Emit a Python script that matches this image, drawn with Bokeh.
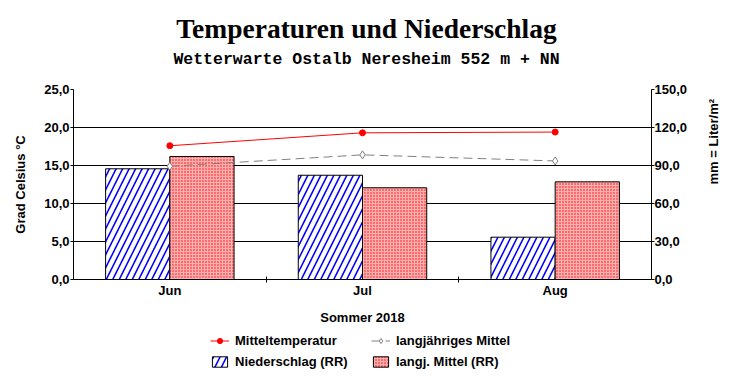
import math
from bokeh.plotting import figure
from bokeh.layouts import column
from bokeh.models import Range1d, LinearAxis, FixedTicker, Legend, LegendItem, Label
from bokeh.embed import file_html
from bokeh.resources import INLINE

# ---- data ----
months = ["Jun", "Jul", "Aug"]
temp = [17.6, 19.3, 19.4]          # Mitteltemperatur (°C)
temp_mean = [14.9, 16.4, 15.6]     # langjähriges Mittel (°C)
rr = [87.4, 82.3, 33.4]            # Niederschlag (mm)
rr_mean = [97.1, 72.4, 77.1]       # langj. Mittel (RR) (mm)
temp_ticks = [0, 5, 10, 15, 20, 25]
rr_ticks = [0, 30, 60, 90, 120, 150]

FONT = "Liberation Sans"
FW, FL = 578, 73          # frame width and left border shared by all parts

x = [i + 0.5 for i in range(len(months))]
bw = 1 / 3
x_rr = [v - bw / 2 for v in x]
x_rrm = [v + bw / 2 for v in x]
bounds = [i for i in range(1, len(months))]

# styles
S_RR = dict(fill_color="white", hatch_pattern="/", hatch_color="blue",
            hatch_weight=1.6, hatch_scale=13, line_color="black", line_width=1)
S_RRM = dict(fill_color="#ffb0b0", hatch_pattern=".", hatch_color="red",
             hatch_weight=1.5, hatch_scale=3, line_color="black", line_width=1)
S_TL = dict(line_color="red", line_width=1)
S_TM = dict(marker="circle", size=6, fill_color="red", line_color="red")
S_ML = dict(line_color="#808080", line_width=1, line_dash="9 5")
S_MM = dict(marker="diamond", size=8, fill_color="white", line_color="#808080")


def blank(fig):
    fig.axis.visible = False
    fig.grid.visible = False
    fig.outline_line_color = None
    fig.background_fill_color = "white"
    fig.border_fill_color = "white"


# ---- header with titles ----
head = figure(frame_width=FW, frame_height=80, output_backend="svg", toolbar_location=None,
              x_range=Range1d(0, FW), y_range=Range1d(80, 0),
              min_border_left=FL, min_border_right=0, min_border_top=0, min_border_bottom=0)
blank(head)
head.add_layout(Label(x=366 - FL, y=28, text="Temperaturen und Niederschlag",
                      text_align="center", text_baseline="middle",
                      text_font="Liberation Serif", text_font_size="27.5px",
                      text_font_style="bold", text_color="black"))
head.add_layout(Label(x=366 - FL, y=59, text="Wetterwarte Ostalb Neresheim 552 m + NN",
                      text_align="center", text_baseline="middle",
                      text_font="Liberation Mono", text_font_size="16.5px",
                      text_font_style="bold", text_color="black"))

# ---- main chart ----
p = figure(frame_width=FW, frame_height=190, output_backend="svg", toolbar_location=None,
           x_range=Range1d(0, len(months)), y_range=Range1d(temp_ticks[0], temp_ticks[-1]),
           min_border_left=FL, min_border_right=10, min_border_top=9, min_border_bottom=54)
p.extra_y_ranges = {"rr": Range1d(rr_ticks[0], rr_ticks[-1])}
p.outline_line_color = None
p.background_fill_color = "white"
p.border_fill_color = "white"

p.xgrid.visible = False
p.ygrid.ticker = FixedTicker(ticks=temp_ticks)
p.ygrid.grid_line_color = "black"
p.ygrid.grid_line_width = 1

p.vbar(x=x_rr, top=rr, bottom=0, width=bw, y_range_name="rr", **S_RR)
p.vbar(x=x_rrm, top=rr_mean, bottom=0, width=bw, y_range_name="rr", **S_RRM)
p.line(x, temp, **S_TL)
p.scatter(x, temp, **S_TM)
p.line(x, temp_mean, **S_ML)
p.scatter(x, temp_mean, **S_MM)

xa = p.xaxis[0]
xa.ticker = FixedTicker(ticks=x, minor_ticks=bounds)
xa.major_label_overrides = {v: m for v, m in zip(x, months)}
xa.major_tick_in = 0
xa.major_tick_out = 0
xa.minor_tick_in = 3
xa.minor_tick_out = 3
xa.minor_tick_line_color = "black"
xa.axis_label = "Sommer 2018"
xa.major_label_standoff = 0
xa.axis_label_standoff = 9

ya = p.yaxis[0]
ya.ticker = FixedTicker(ticks=temp_ticks)
ya.major_label_overrides = {t: f"{t:.1f}".replace(".", ",") for t in temp_ticks}
ya.axis_label = "Grad Celsius °C"
ya.axis_label_standoff = 13
ya.major_label_standoff = 1

ya2 = LinearAxis(y_range_name="rr", ticker=FixedTicker(ticks=rr_ticks),
                 major_label_overrides={t: f"{t:.1f}".replace(".", ",") for t in rr_ticks},
                 axis_label="mm = Liter/m²", axis_label_standoff=23,
                 axis_label_orientation=math.pi / 2)
ya2.major_label_standoff = 0
p.add_layout(ya2, "right")

for ax in (xa, ya, ya2):
    ax.major_label_text_font = FONT
    ax.major_label_text_font_size = "13px"
    ax.major_label_text_font_style = "bold"
    ax.major_label_text_color = "black"
    ax.axis_label_text_font = FONT
    ax.axis_label_text_font_size = "13px"
    ax.axis_label_text_font_style = "bold"
    ax.axis_label_text_color = "black"
    ax.axis_line_color = "black"
for ax in (ya, ya2):
    ax.major_tick_in = 0
    ax.major_tick_out = 3
    ax.minor_tick_line_color = None
    ax.major_tick_line_color = "black"

# ---- footer with legend (series kept far outside its visible range, only the key shows) ----
foot = figure(frame_width=FW, frame_height=51, output_backend="svg", toolbar_location=None,
              x_range=Range1d(1000, 1003), y_range=Range1d(5000, 5051),
              min_border_left=FL, min_border_right=0, min_border_top=0, min_border_bottom=0)
blank(foot)
f_rr = foot.vbar(x=x_rr, top=rr, bottom=0, width=bw, **S_RR)
f_rrm = foot.vbar(x=x_rrm, top=rr_mean, bottom=0, width=bw, **S_RRM)
f_tl = foot.line(x, temp, **S_TL)
f_tm = foot.scatter(x, temp, **S_TM)
f_ml = foot.line(x, temp_mean, **S_ML)
f_mm = foot.scatter(x, temp_mean, **S_MM)

LEG = dict(orientation="vertical", label_text_font=FONT, label_text_font_size="13px",
           label_text_font_style="bold", label_text_color="black",
           glyph_width=19, glyph_height=13, label_height=13, label_standoff=6,
           spacing=6, padding=0, margin=0, border_line_color=None,
           background_fill_alpha=0)
foot.add_layout(Legend(items=[LegendItem(label="Mitteltemperatur", renderers=[f_tl, f_tm]),
                              LegendItem(label="Niederschlag (RR)", renderers=[f_rr])],
                       location=(210 - FL, 15), **LEG))
foot.add_layout(Legend(items=[LegendItem(label="langjähriges Mittel", renderers=[f_ml, f_mm]),
                              LegendItem(label="langj. Mittel (RR)", renderers=[f_rrm])],
                       location=(371 - FL, 15), **LEG))

layout = column(head, p, foot, spacing=0)
open("out.html", "w").write(file_html(layout, INLINE))
